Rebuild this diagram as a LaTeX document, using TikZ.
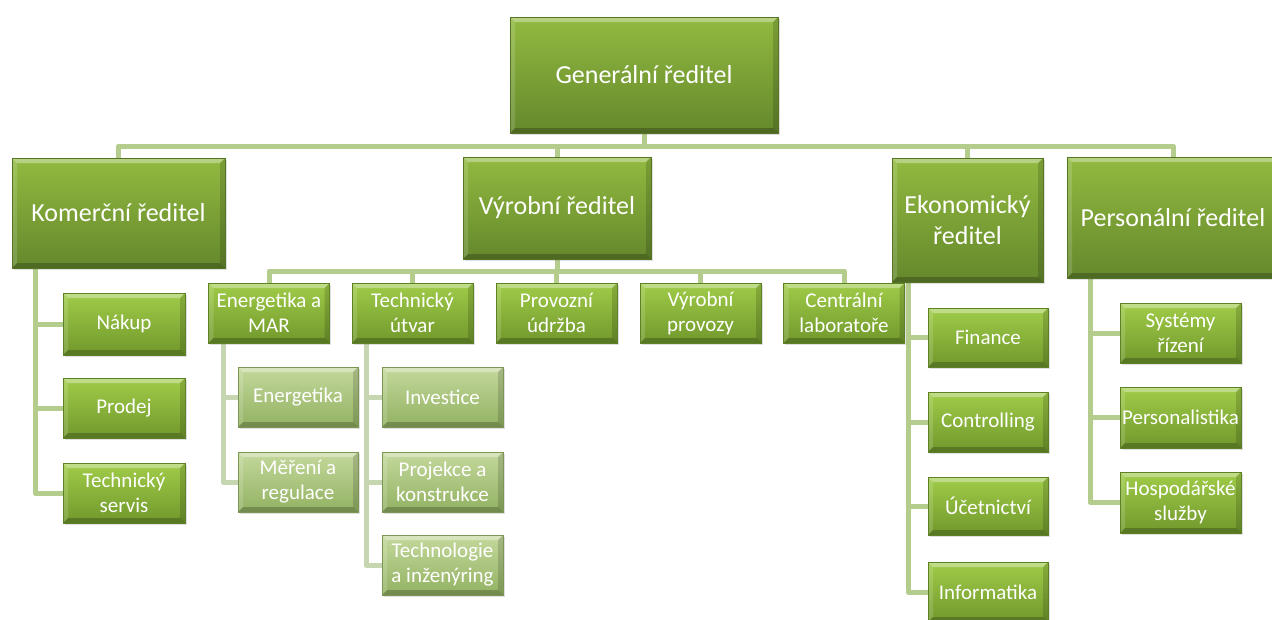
\documentclass[tikz,border=0pt]{standalone}
\usepackage{fontspec}
\setmainfont{Carlito}
\usetikzlibrary{shadows,backgrounds}
\definecolor{aTop}{RGB}{146,186,64}
\definecolor{aBot}{RGB}{100,136,44}
\definecolor{bTop}{RGB}{160,204,72}
\definecolor{bBot}{RGB}{112,152,44}
\definecolor{cTop}{RGB}{196,216,156}
\definecolor{cBot}{RGB}{146,178,98}
\definecolor{connA}{RGB}{180,204,140}
\definecolor{connB}{RGB}{198,214,176}
\tikzset{
  bevel/.style={path picture={
    \fill[white,opacity=0.35] (path picture bounding box.north west) -- (path picture bounding box.north east) -- ([xshift=-5pt,yshift=-5pt]path picture bounding box.north east) -- ([xshift=5pt,yshift=-5pt]path picture bounding box.north west) -- cycle;
    \fill[white,opacity=0.15] (path picture bounding box.north west) -- ([xshift=5pt,yshift=-5pt]path picture bounding box.north west) -- ([xshift=5pt,yshift=5pt]path picture bounding box.south west) -- (path picture bounding box.south west) -- cycle;
    \fill[black,opacity=0.22] (path picture bounding box.south west) -- (path picture bounding box.south east) -- ([xshift=-5pt,yshift=5pt]path picture bounding box.south east) -- ([xshift=5pt,yshift=5pt]path picture bounding box.south west) -- cycle;
    \fill[black,opacity=0.15] (path picture bounding box.north east) -- ([xshift=-5pt,yshift=-5pt]path picture bounding box.north east) -- ([xshift=-5pt,yshift=5pt]path picture bounding box.south east) -- (path picture bounding box.south east) -- cycle;
  }},
  boxbase/.style={rectangle, inner sep=0pt, align=center, text=white, bevel,
    drop shadow={opacity=0.25, shadow xshift=1.5pt, shadow yshift=-2pt}},
  lvla/.style={boxbase, top color=aTop, bottom color=aBot, draw=aBot!85!black, line width=0.5pt,
    font=\fontsize{26}{31}\selectfont},
  lvlb/.style={boxbase, top color=bTop, bottom color=bBot, draw=bBot!85!black, line width=0.5pt,
    minimum width=121, minimum height=60, font=\fontsize{21}{25}\selectfont},
  lvlc/.style={boxbase, top color=cTop, bottom color=cBot, draw=cBot!85!black, line width=0.5pt,
    minimum width=121, minimum height=60, font=\fontsize{21}{25}\selectfont},
  conn/.style={draw=connA, line width=5pt, line join=round},
  connc/.style={draw=connB, line width=5pt, line join=round},
}
\begin{document}
\begin{tikzpicture}[x=1pt,y=-1pt]
\useasboundingbox (0,0) rectangle (1272,619);
\begin{scope}
\clip (0,0) rectangle (1272,619);
\coordinate (busA) at (0,146);
\coordinate (busB) at (0,271);
\coordinate (kx) at (35,0);
\coordinate (ex) at (223,0);
\coordinate (tx) at (366,0);
\coordinate (ox) at (908,0);
\coordinate (px) at (1090,0);

% top level
\node[lvla, minimum width=268, minimum height=116] (gen) at (644,75) {Generální ředitel};
\node[lvla, minimum width=213, minimum height=110] (kom) at (118.5,213) {Komerční ředitel};
\node[lvla, minimum width=188, minimum height=102] (vyr) at (557,208) {Výrobní ředitel};
\node[lvla, minimum width=151, minimum height=124] (eko) at (967.5,220) {Ekonomický\\ředitel};
\node[lvla, minimum width=212, minimum height=121] (per) at (1173,217.5) {Personální ředitel};

% second level under Výrobní
\node[lvlb] (ene) at (269,313) {Energetika a\\MAR};
\node[lvlb] (tec) at (412.5,313) {Technický\\útvar};
\node[lvlb] (pro) at (556.5,313) {Provozní\\údržba};
\node[lvlb] (vpr) at (700.5,313) {Výrobní\\provozy};
\node[lvlb] (cen) at (844,313) {Centrální\\laboratoře};

% third level
\node[lvlc, minimum width=120] (enr) at (298,397) {Energetika};
\node[lvlc, minimum width=120] (mer) at (298,482) {Měření a\\regulace};
\node[lvlc] (inv) at (442.5,397) {Investice};
\node[lvlc] (prj) at (442.5,482) {Projekce a\\konstrukce};
\node[lvlc] (tgi) at (442.5,565) {Technologie\\a inženýring};

% Komerční children
\node[lvlb, minimum width=122, minimum height=62] (nak) at (124,324) {Nákup};
\node[lvlb, minimum width=122] (prd) at (124,408) {Prodej};
\node[lvlb, minimum width=122] (tse) at (124,493) {Technický\\servis};

% Ekonomický children
\node[lvlb, minimum width=120, minimum height=59] (fin) at (988,337.5) {Finance};
\node[lvlb, minimum width=120] (con) at (988,422) {Controlling};
\node[lvlb, minimum width=120, minimum height=58] (uce) at (988,506) {Účetnictví};
\node[lvlb, minimum width=120] (inf) at (988,592) {Informatika};

% Personální children
\node[lvlb] (sys) at (1180.5,333) {Systémy\\řízení};
\node[lvlb, minimum height=61] (prs) at (1180.5,417.5) {Personalistika};
\node[lvlb, minimum height=61] (hos) at (1180.5,502.5) {Hospodářské\\služby};

\begin{pgfonlayer}{background}
  % top bus
  \draw[conn] (gen.south) -- (gen.south |- busA);
  \draw[conn] (kom.north) |- (busA -| per.north) -- (per.north);
  \draw[conn] (vyr.north) -- (vyr.north |- busA);
  \draw[conn] (eko.north) -- (eko.north |- busA);
  % Výrobní bus
  \draw[conn] (vyr.south) -- (vyr.south |- busB);
  \draw[conn] (ene.north) |- (busB -| cen.north) -- (cen.north);
  \draw[conn] (tec.north) -- (tec.north |- busB);
  \draw[conn] (pro.north) -- (pro.north |- busB);
  \draw[conn] (vpr.north) -- (vpr.north |- busB);
  % Komerční side
  \draw[conn] (kom.south -| kx) |- (nak.west);
  \draw[conn] (kom.south -| kx) |- (prd.west);
  \draw[conn] (kom.south -| kx) |- (tse.west);
  % Ekonomický side
  \draw[conn] (eko.south -| ox) |- (fin.west);
  \draw[conn] (eko.south -| ox) |- (con.west);
  \draw[conn] (eko.south -| ox) |- (uce.west);
  \draw[conn] (eko.south -| ox) |- (inf.west);
  % Personální side
  \draw[conn] (per.south -| px) |- (sys.west);
  \draw[conn] (per.south -| px) |- (prs.west);
  \draw[conn] (per.south -| px) |- (hos.west);
  % Energetika a MAR side
  \draw[connc] (ene.south -| ex) |- (enr.west);
  \draw[connc] (ene.south -| ex) |- (mer.west);
  % Technický útvar side
  \draw[connc] (tec.south -| tx) |- (inv.west);
  \draw[connc] (tec.south -| tx) |- (prj.west);
  \draw[connc] (tec.south -| tx) |- (tgi.west);
\end{pgfonlayer}
\end{scope}
\end{tikzpicture}
\end{document}
